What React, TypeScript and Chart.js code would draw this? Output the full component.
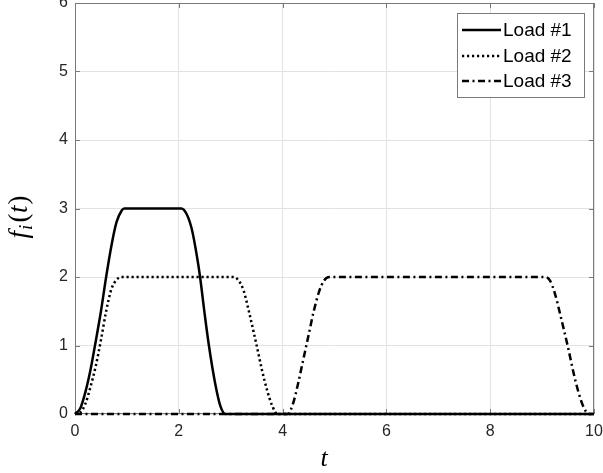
import { useEffect, useRef } from "react";
import { Chart, registerables } from "chart.js";

Chart.register(...registerables);

const seriesLabels = ["Load #1", "Load #2", "Load #3"];

const load1T = [0, 0.1, 0.2, 0.3, 0.385, 0.5, 0.6, 0.7, 0.8, 0.9, 0.95, 2.05, 2.15, 2.25, 2.35, 2.41, 2.5, 2.58, 2.7, 2.8, 2.9, 10];
const load1F = [0, 0.08, 0.32, 0.65, 1.0, 1.5, 2.0, 2.45, 2.8, 2.97, 3, 3, 2.92, 2.7, 2.3, 2.0, 1.45, 1.0, 0.45, 0.12, 0, 0];

const load2T = [0, 0.1, 0.2, 0.3, 0.4, 0.5, 0.6, 0.7, 0.8, 0.9, 3.05, 3.15, 3.25, 3.35, 3.5, 3.6, 3.7, 3.8, 3.9, 10];
const load2F = [0, 0.02, 0.15, 0.4, 0.7, 1.08, 1.5, 1.82, 1.96, 2, 2, 1.95, 1.8, 1.5, 1.0, 0.65, 0.35, 0.12, 0, 0];

const load3T = [0, 4.1, 4.2, 4.3, 4.4, 4.5, 4.6, 4.7, 4.8, 4.9, 9.05, 9.15, 9.25, 9.35, 9.5, 9.6, 9.7, 9.8, 9.9, 10];
const load3F = [0, 0, 0.15, 0.45, 0.8, 1.15, 1.5, 1.78, 1.95, 2, 2, 1.95, 1.75, 1.45, 0.97, 0.62, 0.32, 0.1, 0, 0];

const xTicks = [0, 2, 4, 6, 8, 10];
const yTicks = [0, 1, 2, 3, 4, 5, 6];

const xTitle = "t";
const yTitleParts = ["f", "i", "(", "t", ")"];

const SANS = "'Liberation Sans', Arial, Helvetica, sans-serif";
const SERIF = "'Liberation Serif', 'Times New Roman', serif";
const AXIS_COLOR = "#7a7a7a";

const toPoints = (ts: number[], fs: number[]) => ts.map((t, i) => ({ x: t, y: fs[i] }));

const decorPlugin = {
  id: "matlabDecor",
  beforeDatasetsDraw(chart: any) {
    const { ctx, chartArea } = chart;
    const { left, right, top, bottom } = chartArea;
    const xs = chart.scales.x;
    const ys = chart.scales.y;
    ctx.save();
    ctx.strokeStyle = AXIS_COLOR;
    ctx.lineWidth = 1;
    ctx.setLineDash([]);
    ctx.strokeRect(left + 0.5, top + 0.5, right - left - 1, bottom - top - 1);
    const tl = 5;
    ctx.beginPath();
    xTicks.forEach((v) => {
      const px = Math.round(xs.getPixelForValue(v)) + 0.5;
      ctx.moveTo(px, bottom);
      ctx.lineTo(px, bottom - tl);
      ctx.moveTo(px, top);
      ctx.lineTo(px, top + tl);
    });
    yTicks.forEach((v) => {
      const py = Math.round(ys.getPixelForValue(v)) + 0.5;
      ctx.moveTo(left, py);
      ctx.lineTo(left + tl, py);
      ctx.moveTo(right, py);
      ctx.lineTo(right - tl, py);
    });
    ctx.stroke();
    ctx.restore();
  },
  afterDatasetsDraw(chart: any) {
    const { ctx } = chart;
    ctx.save();
    // x title
    ctx.fillStyle = "#000";
    ctx.font = `italic 26px ${SERIF}`;
    ctx.textAlign = "center";
    ctx.textBaseline = "alphabetic";
    ctx.fillText(xTitle, 324, 466);

    // y title (rotated)
    ctx.save();
    ctx.translate(27, 217);
    ctx.rotate(-Math.PI / 2);
    const fonts = [
      `italic 27px ${SERIF}`,
      `italic 19px ${SERIF}`,
      `27px ${SERIF}`,
      `italic 27px ${SERIF}`,
      `27px ${SERIF}`,
    ];
    const offs = [0, 5, 0, 0, 0];
    const gaps = [1, 2, 0.5, 1, 0];
    let total = 0;
    const widths = yTitleParts.map((p, i) => {
      ctx.font = fonts[i];
      const w = ctx.measureText(p).width + gaps[i];
      total += w;
      return w;
    });
    let cx = -total / 2;
    ctx.textAlign = "left";
    yTitleParts.forEach((p, i) => {
      ctx.font = fonts[i];
      ctx.fillText(p, cx, offs[i]);
      cx += widths[i];
    });
    ctx.restore();

    // legend
    const bx = 457, by = 13, bw = 127, bh = 84;
    ctx.fillStyle = "#fff";
    ctx.fillRect(bx, by, bw, bh);
    ctx.strokeStyle = AXIS_COLOR;
    ctx.lineWidth = 1;
    ctx.strokeRect(bx + 0.5, by + 0.5, bw, bh);
    const rows = [30, 56, 81];
    chart.data.datasets.forEach((ds: any, i: number) => {
      const y = rows[i];
      ctx.strokeStyle = "#000";
      ctx.lineWidth = ds.borderWidth;
      ctx.setLineDash(ds.borderDash || []);
      ctx.lineCap = "butt";
      ctx.beginPath();
      ctx.moveTo(462, y);
      ctx.lineTo(501, y);
      ctx.stroke();
      ctx.setLineDash([]);
      ctx.fillStyle = "#000";
      ctx.font = `19px ${SANS}`;
      ctx.textAlign = "left";
      ctx.textBaseline = "middle";
      ctx.fillText(ds.label, 503, y + 1);
    });
    ctx.restore();
  },
};

export default function App() {
  const ref = useRef<HTMLCanvasElement | null>(null);

  useEffect(() => {
    if (!ref.current) return;
    const common = {
      borderColor: "#000",
      borderWidth: 2.5,
      pointRadius: 0,
      fill: false,
      cubicInterpolationMode: "monotone" as const,
      borderCapStyle: "butt" as const,
      borderJoinStyle: "round" as const,
      clip: 4,
    };
    const zeroPad = (s: any) => {
      s.paddingTop = 0;
      s.paddingBottom = 0;
      s.paddingLeft = 0;
      s.paddingRight = 0;
    };
    const chart = new Chart(ref.current, {
      type: "line",
      data: {
        datasets: [
          { ...common, label: seriesLabels[0], data: toPoints(load1T, load1F), borderDash: [], order: 2 },
          { ...common, label: seriesLabels[1], data: toPoints(load2T, load2F), borderDash: [2.2, 2.8], order: 1 },
          { ...common, label: seriesLabels[2], data: toPoints(load3T, load3F), borderDash: [7, 3.5, 2, 3.5], order: 0 },
        ],
      },
      options: {
        animation: false,
        responsive: true,
        maintainAspectRatio: false,
        layout: { padding: { top: 3, right: 9, left: 0, bottom: 0 } },
        plugins: { legend: { display: false }, tooltip: { enabled: false } },
        scales: {
          x: {
            type: "linear",
            min: 0,
            max: 10,
            afterBuildTicks: (s: any) => {
              s.ticks = xTicks.map((v) => ({ value: v }));
            },
            afterFit: (s: any) => {
              s.height = 59;
              zeroPad(s);
            },
            grid: { color: "#e2e2e2", drawTicks: false, lineWidth: 1 },
            border: { display: false },
            ticks: {
              padding: 8,
              color: "#262626",
              font: { family: SANS, size: 16 },
              maxRotation: 0,
              autoSkip: false,
            },
          },
          y: {
            type: "linear",
            min: 0,
            max: 6,
            afterBuildTicks: (s: any) => {
              s.ticks = yTicks.map((v) => ({ value: v }));
            },
            afterFit: (s: any) => {
              s.width = 75;
              zeroPad(s);
            },
            grid: { color: "#e2e2e2", drawTicks: false, lineWidth: 1 },
            border: { display: false },
            ticks: {
              padding: 7,
              color: "#262626",
              font: { family: SANS, size: 16 },
              autoSkip: false,
            },
          },
        },
      },
      plugins: [decorPlugin],
    });
    return () => chart.destroy();
  }, []);

  return (
    <div style={{ position: "absolute", left: 0, top: 0, width: 603, height: 473, background: "#fff" }}>
      <canvas ref={ref} />
    </div>
  );
}
